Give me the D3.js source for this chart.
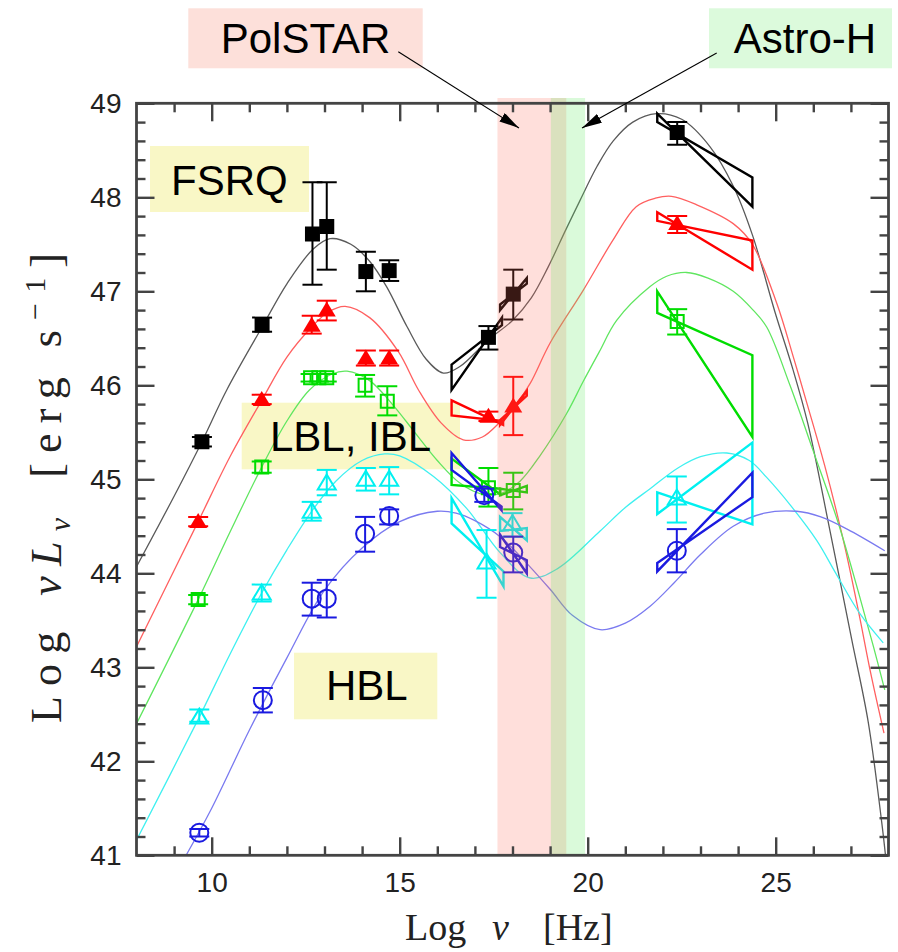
<!DOCTYPE html>
<html><head><meta charset="utf-8">
<script src="https://cdn.jsdelivr.net/npm/d3@7"></script>
<style>body{margin:0;background:#fff}</style>
</head><body>
<svg id="c" width="898" height="952"></svg>
<script>
// ---------- data ----------
const xMajorTicks = [10, 15, 20, 25];
const yMajorTicks = [41, 42, 43, 44, 45, 46, 47, 48, 49];

// model curves [log nu, log nuLnu]
const blackCurve = [[8,44.07],[9,44.82],[9.74,45.4],[10.4,45.95],[11.34,46.62],[12,47.08],[12.7,47.45],[13.15,47.56],[13.7,47.5],[14.2,47.32],[14.65,47.05],[15.2,46.62],[15.7,46.28],[16.16,46.13],[16.6,46.2],[17.35,46.48],[18.0,46.69],[18.5,46.93],[18.95,47.26],[19.4,47.64],[19.8,47.97],[20.25,48.33],[20.68,48.6],[21.2,48.8],[21.83,48.89],[22.5,48.83],[23.25,48.54],[23.87,48.12],[24.38,47.6],[24.98,46.78],[25.45,46.18],[25.85,45.6],[26.42,44.5],[27.02,43.3],[27.46,42.42],[27.82,41.35],[27.92,41.0]];
const redCurve = [[8,43.22],[9.64,44.55],[10.5,45.25],[11.33,45.84],[12,46.3],[12.66,46.62],[13.1,46.78],[13.55,46.84],[14.2,46.72],[14.96,46.36],[15.5,45.95],[16.1,45.6],[16.69,45.42],[17.2,45.45],[17.67,45.61],[18.1,45.8],[18.47,46.02],[19.0,46.45],[19.88,47.01],[20.68,47.55],[21.29,47.9],[21.8,47.99],[22.23,48.01],[22.9,47.92],[23.87,47.72],[24.38,47.5],[25.03,46.87],[25.47,46.3],[25.8,45.85],[26.3,45.15],[26.8,44.35],[27.2,43.6],[27.51,42.97],[27.88,42.3]];
const greenCurve = [[8,42.4],[9.64,43.72],[10.5,44.45],[11.33,45.13],[12,45.62],[12.6,45.95],[13.2,46.12],[13.6,46.15],[14.2,46.05],[14.8,45.8],[15.4,45.5],[16.0,45.2],[16.6,44.96],[17.2,44.84],[17.7,44.85],[18.2,44.98],[18.73,45.25],[19.44,45.7],[19.88,46.04],[20.3,46.35],[20.77,46.69],[21.66,47.05],[22.1,47.16],[22.63,47.2],[23.2,47.14],[23.87,47.0],[24.4,46.8],[24.76,46.62],[25.38,46.0],[26.0,45.3],[26.66,44.54],[27.2,43.8],[27.6,43.22],[27.9,42.76]];
const cyanCurve = [[8,41.16],[9.67,42.47],[10.5,43.15],[11.33,43.79],[12,44.25],[12.66,44.66],[13.3,44.98],[14.0,45.2],[14.6,45.27],[15.0,45.25],[15.9,45.03],[16.78,44.69],[17.67,44.22],[18.47,43.95],[19.2,44.05],[20.33,44.45],[21.0,44.7],[21.66,44.9],[22.4,45.12],[23.0,45.24],[23.7,45.28],[24.3,45.2],[24.76,45.02],[25.4,44.72],[26.09,44.35],[26.6,44.0],[27.24,43.57],[27.86,43.26]];
const blueCurve = [[9.32,41.0],[10,41.5],[11,42.33],[12,43.1],[13,43.82],[14,44.27],[15,44.55],[16,44.66],[16.5,44.64],[17,44.56],[17.67,44.39],[18.3,44.14],[19,43.83],[19.6,43.55],[20.33,43.4],[21,43.47],[21.66,43.65],[22.3,43.9],[23,44.2],[23.87,44.5],[24.7,44.64],[25.56,44.66],[26.2,44.6],[26.9,44.47],[27.9,44.24]];

// data points [log nu, log nuLnu, bar low, bar high]
const fsrqPoints = [[9.74,45.40,45.35,45.45],[11.34,46.64,46.57,46.72],[12.68,47.61,47.07,48.16],[13.06,47.69,47.23,48.16],[14.10,47.21,47.00,47.42],[14.72,47.22,47.11,47.33],[17.36,46.51,46.38,46.63],[18.02,46.97,46.70,47.23],[22.38,48.69,48.56,48.80]];
const redPoints = [[9.64,44.55,44.50,44.60],[11.33,45.85,45.80,45.90],[12.66,46.64,46.55,46.74],[13.06,46.80,46.69,46.90],[14.10,46.29,46.21,46.37],[14.72,46.29,46.21,46.37],[17.36,45.67,45.62,45.72],[18.02,45.78,45.47,46.09],[22.38,47.72,47.62,47.80]];
const greenPoints = [[9.64,43.72,43.67,43.77],[11.33,45.13,45.07,45.19],[12.63,46.08,46.04,46.12],[12.85,46.08,46.04,46.12],[13.06,46.08,46.04,46.12],[14.08,46.0,45.88,46.11],[14.67,45.83,45.68,45.99],[17.36,44.91,44.71,45.12],[18.02,44.88,44.68,45.07],[22.38,46.68,46.54,46.81]];
const cyanPoints = [[9.67,42.47,42.42,42.55],[11.33,43.79,43.70,43.88],[12.66,44.66,44.56,44.76],[13.06,44.96,44.83,45.10],[14.10,45.00,44.88,45.12],[14.72,45.00,44.84,45.13],[17.31,44.12,43.74,44.46],[18.00,44.53,44.39,44.64],[22.37,44.80,44.54,45.03]];
const bluePoints = [[9.67,41.24,41.20,41.28],[11.36,42.65,42.52,42.78],[12.66,43.73,43.55,43.90],[13.06,43.73,43.53,43.93],[14.08,44.42,44.23,44.60],[14.72,44.61,44.52,44.68],[17.25,44.83,44.76,44.90],[18.02,44.22,44.01,44.39],[22.37,44.24,44.01,44.47]];

// bow-ties [nu1, low1, high1, nu2, low2, high2]
const fsrqBowties = [[16.38,45.95,46.22,17.72,46.64,46.72],[17.67,46.80,46.86,18.38,47.08,47.14],[21.85,48.80,48.89,24.38,47.90,48.21]];
const redBowties = [[16.38,45.68,45.84,17.75,45.58,45.62],[17.67,45.58,45.63,18.38,45.89,45.94],[21.85,47.75,47.84,24.38,47.23,47.54]];
const greenBowties = [[16.38,44.94,45.22,17.67,44.84,44.90],[17.67,44.83,44.90,18.38,44.86,44.93],[21.85,46.77,47.00,24.38,45.45,46.32]];
const cyanBowties = [[16.38,44.53,44.80,17.76,43.86,44.02],[17.67,44.45,44.60,18.38,44.35,44.48],[21.85,44.63,44.86,24.38,44.52,45.39]];
const blueBowties = [[16.38,45.10,45.28,17.71,44.67,44.71],[17.67,44.28,44.41,18.38,44.00,44.14],[21.85,44.02,44.11,24.38,44.81,45.07]];

// instrument bands [from, to] in log nu
const polstarBand = [17.6, 19.43];
const astroHBand = [19.02, 19.93];

// ---------- drawing ----------
const svg = d3.select("#c");
const x = d3.scaleLinear([8, 28], [136.5, 888.5]);
const y = d3.scaleLinear([41, 49], [855.3, 103.3]);
const [X0, X1] = x.range(), [Y0, Y1] = y.range();

svg.append("rect").attr("width", 898).attr("height", 952).attr("fill", "#fff");

svg.append("defs").append("clipPath").attr("id", "plot")
  .append("rect").attr("x", X0).attr("y", Y1).attr("width", X1 - X0).attr("height", Y0 - Y1);

// yellow class boxes (under data)
const boxes = [
  {x: 150, y: 146, w: 159, h: 66, t: "FSRQ", tx: 171, ty: 195},
  {x: 241.7, y: 402.7, w: 218.3, h: 66.6, t: "LBL, IBL", tx: 270, ty: 451},
  {x: 294, y: 652.7, w: 143.3, h: 66.6, t: "HBL", tx: 326, ty: 700}
];
svg.selectAll("rect.cls").data(boxes).join("rect").attr("class", "cls")
  .attr("x", d => d.x).attr("y", d => d.y).attr("width", d => d.w).attr("height", d => d.h)
  .attr("fill", "#f9f7c6");

const plot = svg.append("g").attr("clip-path", "url(#plot)");

const series = [
  {curve: blackCurve, pts: fsrqPoints, bows: fsrqBowties, lc: "#5a5a5a", c: "#000", m: "fsq"},
  {curve: redCurve, pts: redPoints, bows: redBowties, lc: "#ff6060", c: "#ff0000", m: "ftri"},
  {curve: greenCurve, pts: greenPoints, bows: greenBowties, lc: "#60e660", c: "#00dd00", m: "osq"},
  {curve: cyanCurve, pts: cyanPoints, bows: cyanBowties, lc: "#40f0f0", c: "#00f0f0", m: "otri"},
  {curve: blueCurve, pts: bluePoints, bows: blueBowties, lc: "#7a7af0", c: "#1a1ae0", m: "ocir"}
];

const line = d3.line().x(d => x(d[0])).y(d => y(d[1])).curve(d3.curveCatmullRom.alpha(0.5));
series.forEach(s => {
  plot.append("path").attr("d", line(s.curve)).attr("fill", "none")
    .attr("stroke", s.lc).attr("stroke-width", 1.3);
});

series.forEach(s => {
  const g = plot.append("g");
  g.selectAll("path.bow").data(s.bows).join("path").attr("class", "bow")
    .attr("d", b => d3.line()([[x(b[0]), y(b[2])], [x(b[3]), y(b[4])], [x(b[3]), y(b[5])], [x(b[0]), y(b[1])]]) + "Z")
    .attr("fill", "none").attr("stroke", s.c).attr("stroke-width", 2.4).attr("stroke-linejoin", "miter");
  const eb = g.selectAll("g.eb").data(s.pts).join("g").attr("class", "eb");
  eb.append("line").attr("x1", d => x(d[0])).attr("x2", d => x(d[0]))
    .attr("y1", d => y(d[2])).attr("y2", d => y(d[3])).attr("stroke", s.c).attr("stroke-width", 2);
  [2, 3].forEach(i => eb.append("line").attr("x1", d => x(d[0]) - 10).attr("x2", d => x(d[0]) + 10)
    .attr("y1", d => y(d[i])).attr("y2", d => y(d[i])).attr("stroke", s.c).attr("stroke-width", 2));
  const mk = g.selectAll("path.mk").data(s.pts).join("path").attr("class", "mk")
    .attr("transform", d => `translate(${x(d[0])},${y(d[1])})`);
  if (s.m === "fsq") mk.attr("d", "M-7.5,-7.5H7.5V7.5H-7.5Z").attr("fill", s.c);
  if (s.m === "ftri") mk.attr("d", "M0,-8.5L9,6.5H-9Z").attr("fill", s.c);
  if (s.m === "osq") mk.attr("d", "M-6.5,-6.5H6.5V6.5H-6.5Z").attr("fill", "none").attr("stroke", s.c).attr("stroke-width", 2);
  if (s.m === "otri") mk.attr("d", "M0,-8.5L9,6.5H-9Z").attr("fill", "none").attr("stroke", s.c).attr("stroke-width", 2);
  if (s.m === "ocir") mk.attr("d", d3.arc()({innerRadius: 0, outerRadius: 9, startAngle: 0, endAngle: 2 * Math.PI}))
    .attr("fill", "none").attr("stroke", s.c).attr("stroke-width", 2);
});

// instrument bands on top
svg.append("rect").attr("x", x(polstarBand[0])).attr("width", x(polstarBand[1]) - x(polstarBand[0]))
  .attr("y", 98).attr("height", Y0 - 98).attr("fill", "rgb(255,110,90)").attr("fill-opacity", 0.22);
svg.append("rect").attr("x", x(astroHBand[0])).attr("width", x(astroHBand[1]) - x(astroHBand[0]))
  .attr("y", 98).attr("height", Y0 - 98).attr("fill", "rgb(100,235,100)").attr("fill-opacity", 0.24);

// axes
const tickCol = "#444";
function styleAxis(g) {
  g.select(".domain").remove();
  g.selectAll(".tick line").attr("stroke", tickCol).attr("stroke-width", 2.4);
  g.attr("font-family", "'Liberation Sans', Arial, sans-serif").attr("font-size", 28);
  g.selectAll("text").attr("fill", "#222");
}
const xMinor = d3.range(9, 28).filter(v => !xMajorTicks.includes(v));
const yMinor = d3.range(41.2, 49, 0.2).filter(v => Math.abs(v - Math.round(v)) > 0.01);

svg.append("g").attr("transform", `translate(0,${Y0})`)
  .call(d3.axisBottom(x).tickValues(xMajorTicks).tickSizeInner(-18).tickSizeOuter(0).tickPadding(17).tickFormat(d3.format("d"))).call(styleAxis);
svg.append("g").attr("transform", `translate(0,${Y0})`)
  .call(d3.axisBottom(x).tickValues(xMinor).tickSizeInner(-9).tickSizeOuter(0).tickFormat("")).call(styleAxis);
svg.append("g").attr("transform", `translate(0,${Y1})`)
  .call(d3.axisTop(x).tickValues(xMajorTicks).tickSizeInner(-18).tickSizeOuter(0).tickFormat("")).call(styleAxis);
svg.append("g").attr("transform", `translate(0,${Y1})`)
  .call(d3.axisTop(x).tickValues(xMinor).tickSizeInner(-9).tickSizeOuter(0).tickFormat("")).call(styleAxis);
svg.append("g").attr("transform", `translate(${X0},0)`)
  .call(d3.axisLeft(y).tickValues(yMajorTicks).tickSizeInner(-18).tickSizeOuter(0).tickPadding(15).tickFormat(d3.format("d"))).call(styleAxis);
svg.append("g").attr("transform", `translate(${X0},0)`)
  .call(d3.axisLeft(y).tickValues(yMinor).tickSizeInner(-9).tickSizeOuter(0).tickFormat("")).call(styleAxis);
svg.append("g").attr("transform", `translate(${X1},0)`)
  .call(d3.axisRight(y).tickValues(yMajorTicks).tickSizeInner(-18).tickSizeOuter(0).tickFormat("")).call(styleAxis);
svg.append("g").attr("transform", `translate(${X1},0)`)
  .call(d3.axisRight(y).tickValues(yMinor).tickSizeInner(-9).tickSizeOuter(0).tickFormat("")).call(styleAxis);

svg.append("rect").attr("x", X0).attr("y", Y1).attr("width", X1 - X0).attr("height", Y0 - Y1)
  .attr("fill", "none").attr("stroke", tickCol).attr("stroke-width", 2.8);

// class labels
svg.selectAll("text.cls").data(boxes).join("text").attr("class", "cls")
  .attr("x", d => d.tx).attr("y", d => d.ty).text(d => d.t)
  .attr("font-family", "'Liberation Sans', Arial, sans-serif").attr("font-size", 42).attr("fill", "#000");

// axis titles
const serif = "'Liberation Serif', 'Times New Roman', serif";
const xt = svg.append("g").attr("font-family", serif).attr("font-size", 38).attr("fill", "#222");
xt.append("text").attr("x", 405).attr("y", 940).text("Log");
xt.append("text").attr("x", 492).attr("y", 940).attr("font-style", "italic").text("ν");
xt.append("text").attr("x", 543).attr("y", 940).text("[Hz]");

const yt = svg.append("g").attr("transform", "translate(61,488) rotate(-90)")
  .attr("font-family", serif).attr("font-size", 44).attr("fill", "#222");
const ytx = yt.append("text").attr("x", 0).attr("y", 0).attr("text-anchor", "middle")
  .attr("textLength", 470).attr("lengthAdjust", "spacing");
ytx.append("tspan").text("Log");
ytx.append("tspan").attr("dx", 26).attr("font-style", "italic").text("νL");
ytx.append("tspan").attr("dy", 9).attr("font-size", 30).attr("font-style", "italic").text("ν");
ytx.append("tspan").attr("dy", -9).attr("dx", 30).text("[erg");
ytx.append("tspan").attr("dx", 20).text("s");
ytx.append("tspan").attr("dy", -16).attr("font-size", 30).text("−1");
ytx.append("tspan").attr("dy", 16).text("]");

// instrument labels
const inst = [
  {x: 188.3, w: 234.4, fill: "#fde0da", t: "PolSTAR", tx: 305.5, from: [398.3, 51.7], to: [519, 128]},
  {x: 709, w: 183, fill: "#dcfadc", t: "Astro-H", tx: 805, from: [716.7, 53], to: [582, 128]}
];
svg.selectAll("rect.inst").data(inst).join("rect").attr("class", "inst")
  .attr("x", d => d.x).attr("y", 8.3).attr("width", d => d.w).attr("height", 60).attr("fill", d => d.fill);
svg.selectAll("text.inst").data(inst).join("text").attr("class", "inst")
  .attr("x", d => d.tx).attr("y", 53).attr("text-anchor", "middle").text(d => d.t)
  .attr("font-family", "'Liberation Sans', Arial, sans-serif").attr("font-size", 42).attr("fill", "#000");
svg.select("defs").append("marker").attr("id", "ah").attr("viewBox", "0 0 20 10")
  .attr("refX", 20).attr("refY", 5).attr("markerWidth", 20).attr("markerHeight", 10)
  .attr("markerUnits", "userSpaceOnUse").attr("orient", "auto")
  .append("path").attr("d", "M0,0L20,5L0,10Z").attr("fill", "#000");
svg.selectAll("line.arr").data(inst).join("line").attr("class", "arr")
  .attr("x1", d => d.from[0]).attr("y1", d => d.from[1]).attr("x2", d => d.to[0]).attr("y2", d => d.to[1])
  .attr("stroke", "#000").attr("stroke-width", 1.1).attr("marker-end", "url(#ah)");
</script>
</body></html>
